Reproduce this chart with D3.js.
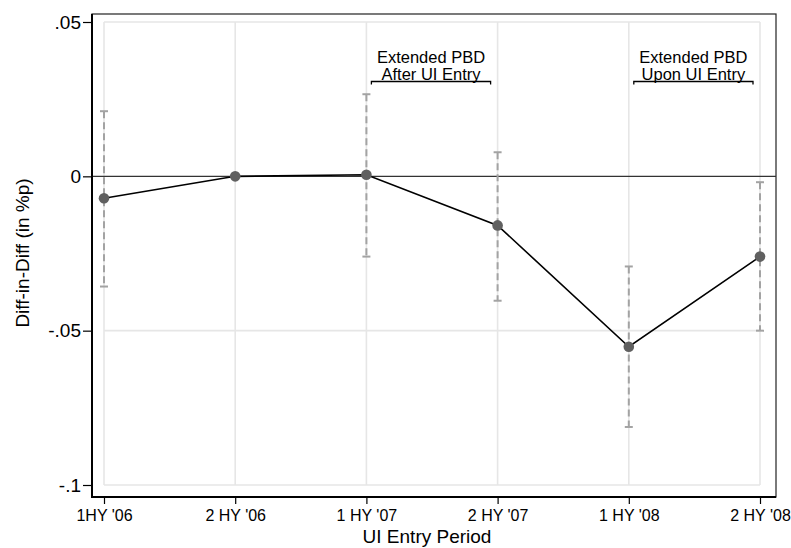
<!DOCTYPE html>
<html><head><meta charset="utf-8">
<script src="https://cdn.jsdelivr.net/npm/d3@7/dist/d3.min.js"></script>
<style>body{margin:0;background:#fff}svg{display:block;font-family:"Liberation Sans",Arial,sans-serif}</style>
</head><body><svg id="c" width="791" height="548"></svg>
<script>
const periods = ["1HY '06","2 HY '06","1 HY '07","2 HY '07","1 HY '08","2 HY '08"];
const estimates = [-0.0071, 0.0, 0.0005, -0.0159, -0.0552, -0.0260];
const ciLow =  [-0.0357, null, -0.0260, -0.0403, -0.0812, -0.0500];
const ciHigh = [ 0.0211, null,  0.0266,  0.0078, -0.0292, -0.0019];
const yTicks = [0.05, 0, -0.05, -0.1];
const yTickLabels = [".05","0","-.05","-.1"];
const brackets = [
  {from:2, to:3, lines:["Extended PBD","After UI Entry"]},
  {from:4, to:5, lines:["Extended PBD","Upon UI Entry"]}
];

const FONT = "Liberation Sans, Arial, sans-serif";
const svg = d3.select("#c");
const frame = {l:92, r:776, t:14, b:497};
const x = d3.scalePoint().domain(d3.range(periods.length)).range([104, 760]);
const y = d3.scaleLinear().domain([-0.1, 0.05]).range([485, 22]);

// frame
svg.append("rect").attr("x",frame.l).attr("y",frame.t).attr("width",frame.r-frame.l).attr("height",frame.b-frame.t)
  .attr("fill","#fff").attr("stroke","#222").attr("stroke-width",1.2);

// grid
const g = svg.append("g");
g.selectAll(".hg").data(yTicks.filter(v=>v!==0)).join("line")
  .attr("x1",x(0)).attr("x2",x(5)).attr("y1",d=>y(d)).attr("y2",d=>y(d))
  .attr("stroke","#e6e6e6").attr("stroke-width",1.6);
g.selectAll(".vg").data(d3.range(periods.length)).join("line")
  .attr("x1",d=>x(d)).attr("x2",d=>x(d)).attr("y1",y(0.05)).attr("y2",y(-0.1))
  .attr("stroke","#e6e6e6").attr("stroke-width",1.6);

// zero line
svg.append("line").attr("x1",frame.l).attr("x2",frame.r).attr("y1",y(0)).attr("y2",y(0))
  .attr("stroke","#333").attr("stroke-width",1.2);

// axes
const yAxis = d3.axisLeft(y).tickValues(yTicks).tickFormat((d,i)=>yTickLabels[i]).tickSize(9).tickPadding(2);
const ya = svg.append("g").attr("transform",`translate(${frame.l},0)`).call(yAxis);
ya.select(".domain").remove();
ya.selectAll("line").attr("stroke","#000").attr("stroke-width",1.2);
ya.selectAll("text").attr("font-size",19).attr("fill","#000").attr("font-family",FONT);
svg.append("line").attr("x1",frame.l).attr("x2",frame.l).attr("y1",frame.t).attr("y2",frame.b+1).attr("stroke","#000").attr("stroke-width",2);

const xAxis = d3.axisBottom(x).tickFormat(i=>periods[i]).tickSize(7).tickPadding(6);
const xa = svg.append("g").attr("transform",`translate(0,${frame.b})`).call(xAxis);
xa.select(".domain").remove();
xa.selectAll("line").attr("stroke","#000").attr("stroke-width",1.2);
xa.selectAll("text").attr("font-size",16).attr("fill","#000").attr("font-family",FONT);
svg.append("line").attr("x1",frame.l-1).attr("x2",frame.r).attr("y1",frame.b).attr("y2",frame.b).attr("stroke","#000").attr("stroke-width",2);

// axis titles
svg.append("text").attr("x",427).attr("y",543).attr("text-anchor","middle").attr("font-size",19).text("UI Entry Period");
svg.append("text").attr("transform","translate(29,253) rotate(-90)").attr("text-anchor","middle").attr("font-size",19).text("Diff-in-Diff (in %p)");

// CIs
const ci = d3.range(periods.length).filter(i=>ciLow[i]!==null);
const cg = svg.append("g").attr("stroke","#a3a3a3").attr("stroke-width",2).attr("fill","none");
cg.selectAll(".ci").data(ci).join("line")
  .attr("x1",i=>x(i)).attr("x2",i=>x(i)).attr("y1",i=>y(ciHigh[i])).attr("y2",i=>y(ciLow[i]))
  .attr("stroke-dasharray","7,4");
cg.selectAll(".capT").data(ci).join("line")
  .attr("x1",i=>x(i)-4).attr("x2",i=>x(i)+4).attr("y1",i=>y(ciHigh[i])).attr("y2",i=>y(ciHigh[i]));
cg.selectAll(".capB").data(ci).join("line")
  .attr("x1",i=>x(i)-4).attr("x2",i=>x(i)+4).attr("y1",i=>y(ciLow[i])).attr("y2",i=>y(ciLow[i]));

// line
const line = d3.line().x((d,i)=>x(i)).y(d=>y(d));
svg.append("path").attr("d",line(estimates)).attr("fill","none").attr("stroke","#000").attr("stroke-width",1.6);
svg.selectAll(".pt").data(estimates).join("circle")
  .attr("cx",(d,i)=>x(i)).attr("cy",d=>y(d)).attr("r",5.3).attr("fill","#606060");

// brackets
brackets.forEach(b=>{
  const x0 = x(b.from)+5, x1 = x(b.to)-7, by = 81.5;
  const cx = (x0+x1)/2;
  svg.append("path").attr("d",`M${x0},${by+3}V${by}H${x1}V${by+3}`).attr("fill","none").attr("stroke","#000").attr("stroke-width",1.3);
  b.lines.forEach((t,k)=>{
    svg.append("text").attr("x",cx).attr("y",63+k*16.5).attr("text-anchor","middle").attr("font-size",16.5).text(t);
  });
});
</script></body></html>
